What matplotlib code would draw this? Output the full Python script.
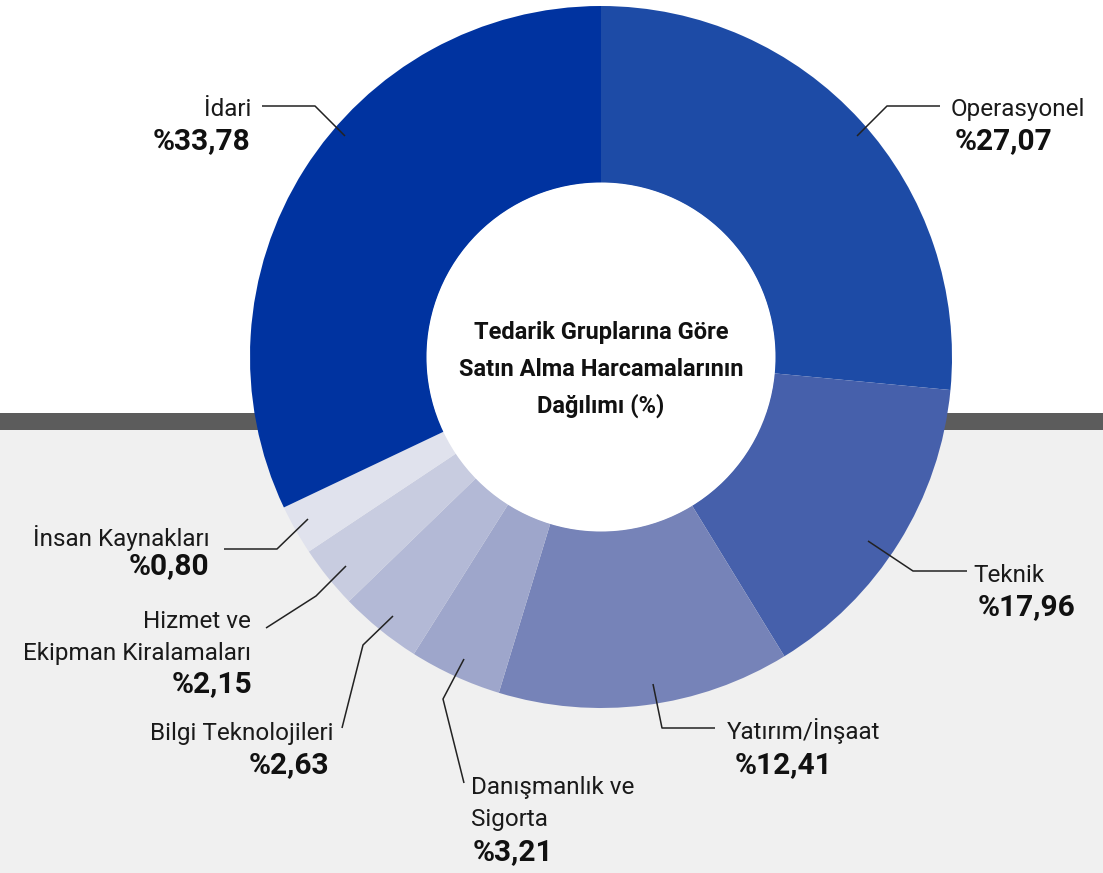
import matplotlib
matplotlib.use("Agg")
import matplotlib.pyplot as plt
from matplotlib.patches import Rectangle

# ---- data ----
categories = ["Operasyonel", "Teknik", "Yatırım/İnşaat", "Danışmanlık ve\nSigorta",
              "Bilgi Teknolojileri", "Hizmet ve\nEkipman Kiralamaları",
              "İnsan Kaynakları", "İdari"]
# printed values
values = [27.07, 17.96, 12.41, 3.21, 2.63, 2.15, 0.80, 33.78]
value_labels = ["%27,07", "%17,96", "%12,41", "%3,21", "%2,63", "%2,15", "%0,80", "%33,78"]
# slice sizes as drawn in the picture (designer-adjusted, measured from the arcs)
drawn_shares = [26.5, 14.75, 13.45, 4.25, 3.8, 2.9, 2.3, 32.05]
colors = ["#1d4ba6", "#4660ab", "#7683b8", "#9ea6cb", "#b3b9d6", "#c8cce0", "#e0e2ed", "#0033a0"]
title = "Tedarik Gruplarına Göre\nSatın Alma Harcamalarının\nDağılımı (%)"

# ---- layout (pixel coords, y from top) ----
W, H = 1103, 873
CX, CY, R, RIN = 601, 357, 351, 174
leaders = [
    [(857, 136), (887, 106), (940, 106)],
    [(868, 541), (913, 571), (967, 571)],
    [(653, 684), (662, 728), (715, 728)],
    [(464, 659), (443, 699), (464, 783)],
    [(393, 616), (363, 645), (342, 728)],
    [(346, 566), (316, 596), (266, 628)],
    [(308, 519), (277, 549), (224, 549)],
    [(345, 136), (315, 106), (262, 106)],
]
# name: x, first baseline, ha ; value: x, baseline
name_pos = [(951, 116, "left"), (973, 582, "left"), (727, 739, "left"), (471, 794, "left"),
            (334, 740, "right"), (251, 628, "right"), (210, 546, "right"), (251, 116, "right")]
value_pos = [(955, 149), (978, 615), (735, 773), (473, 860),
             (329, 773), (252, 692), (209, 574), (250, 149)]
LINE_STEP = 32

plt.rcParams['font.family'] = ['Roboto', 'DejaVu Sans']

fig = plt.figure(figsize=(W / 100, H / 100), dpi=100)
ax = fig.add_axes([0, 0, 1, 1])

def fy(y):
    return H - y

# background
ax.add_patch(Rectangle((0, 0), W, fy(430), color="#f0f0f0", zorder=0, lw=0))
ax.add_patch(Rectangle((0, fy(430)), W, 430 - 413, color="#5c5c5c", zorder=0, lw=0))

ax.pie(drawn_shares, colors=colors, startangle=90, counterclock=False,
       radius=R, center=(CX, fy(CY)),
       wedgeprops=dict(width=R - RIN, edgecolor="none", linewidth=0))
ax.add_patch(plt.Circle((CX, fy(CY)), RIN + 0.5, color="white", zorder=3, lw=0))

for i, line in enumerate(title.split("\n")):
    ax.text(CX, fy(339 + i * 37), line, ha="center", va="baseline", fontsize=17,
            fontweight="bold", color="#111111", zorder=5)

for pts in leaders:
    ax.plot([p[0] for p in pts], [fy(p[1]) for p in pts], color="#222222",
            lw=1.1, zorder=4, solid_capstyle="butt")

for cat, vl, (nx, ny, ha), (vx, vy) in zip(categories, value_labels, name_pos, value_pos):
    for i, line in enumerate(cat.split("\n")):
        ax.text(nx, fy(ny + i * LINE_STEP), line, ha=ha, va="baseline", fontsize=17.5,
                color="#1a1a1a", fontweight="normal", zorder=5)
    ax.text(vx, fy(vy), vl, ha=ha, va="baseline", fontsize=21.5,
            fontweight="bold", color="#111111", zorder=5)

ax.set_xlim(0, W)
ax.set_ylim(0, H)
ax.set_aspect("equal")
ax.axis("off")
fig.savefig("out.png", dpi=100, facecolor="white")
